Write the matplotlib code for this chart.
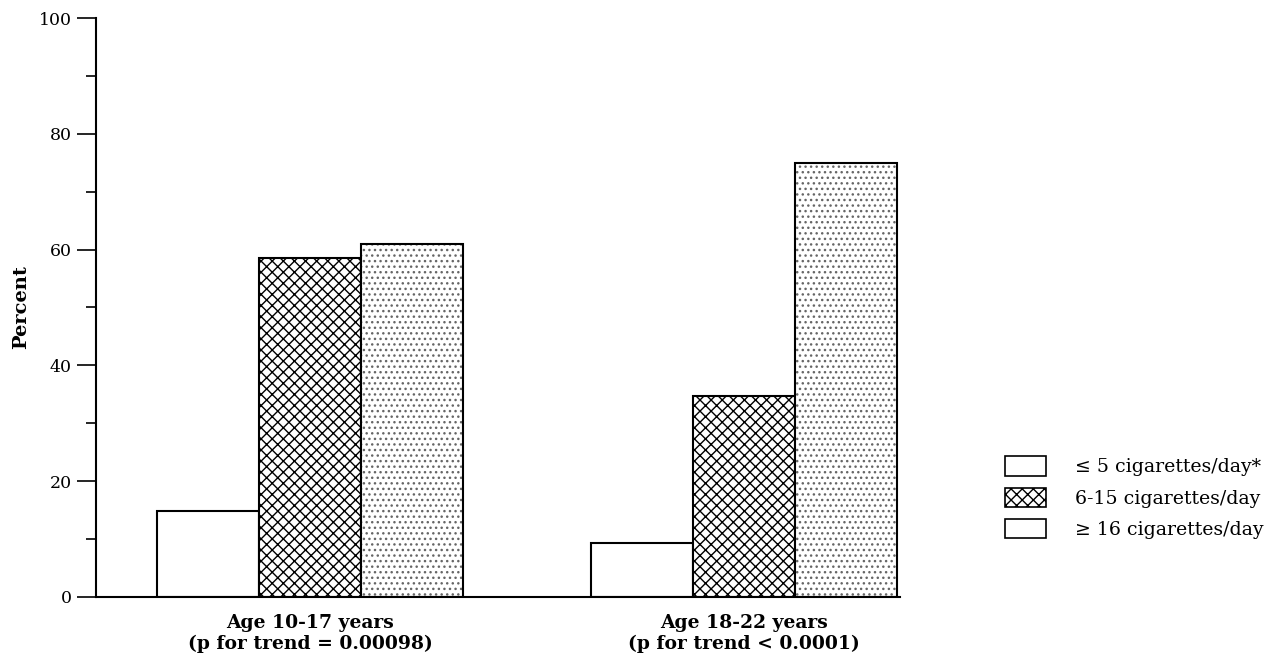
import numpy as np
from matplotlib import pyplot as plt
from matplotlib.patches import Patch

groups = ['Age 10-17 years\n(p for trend = 0.00098)',
          'Age 18-22 years\n(p for trend < 0.0001)']
series = ['\u2264 5 cigarettes/day*', '6-15 cigarettes/day',
          '\u2265 16 cigarettes/day']
low = [14.8, 9.3]
mid = [58.5, 34.7]
high = [60.9, 75.0]
yticks = [0, 20, 40, 60, 80, 100]

plt.rcParams['font.family'] = ['DejaVu Serif']
plt.rcParams['hatch.linewidth'] = 1.0

fig = plt.figure(figsize=(12.81, 6.67), dpi=100)
ax = fig.add_axes([0.0749, 0.105, 0.6277, 0.868])

x = np.arange(len(groups))
w = 0.235
ax.bar(x - w, low, w, facecolor='white', edgecolor='black', linewidth=1.5)
ax.bar(x, mid, w, facecolor='white', edgecolor='black', linewidth=1.5,
       hatch='xxx')
# stippled bars: grey dots underneath, black outline on top
ax.bar(x + w, high, w, facecolor='white', edgecolor='#666666', linewidth=0,
       hatch='...')
ax.bar(x + w, high, w, facecolor='none', edgecolor='black', linewidth=1.5)

ax.set_xlim(-0.493, 1.36)
ax.set_ylim(0, 100)
ax.set_yticks(yticks)
ax.set_yticks(np.arange(10, 100, 20), minor=True)
ax.tick_params(axis='y', which='major', length=14, width=1.2, labelsize=12.5)
ax.tick_params(axis='y', which='minor', length=7, width=1.2)
ax.set_xticks(x)
ax.set_xticklabels(groups, fontsize=13.5, fontweight='bold', linespacing=1.25)
ax.tick_params(axis='x', length=0, pad=12)
ax.spines['top'].set_visible(False)
ax.spines['right'].set_visible(False)
ax.spines['left'].set_linewidth(1.5)
ax.spines['bottom'].set_linewidth(1.5)
ax.set_ylabel('Percent', fontsize=14, fontweight='bold', labelpad=6)

handles = [Patch(facecolor='white', edgecolor='black', linewidth=1.2),
           Patch(facecolor='white', edgecolor='black', linewidth=1.2,
                 hatch='xxx'),
           Patch(facecolor='white', edgecolor='black', linewidth=1.2)]
fig.legend(handles, series, loc='center left', bbox_to_anchor=(0.7775, 0.254),
           frameon=False, fontsize=13.6, handlelength=2.15, handleheight=1.2,
           handletextpad=1.55, labelspacing=0.6, borderpad=0)

fig.savefig('out.png', dpi=100)
